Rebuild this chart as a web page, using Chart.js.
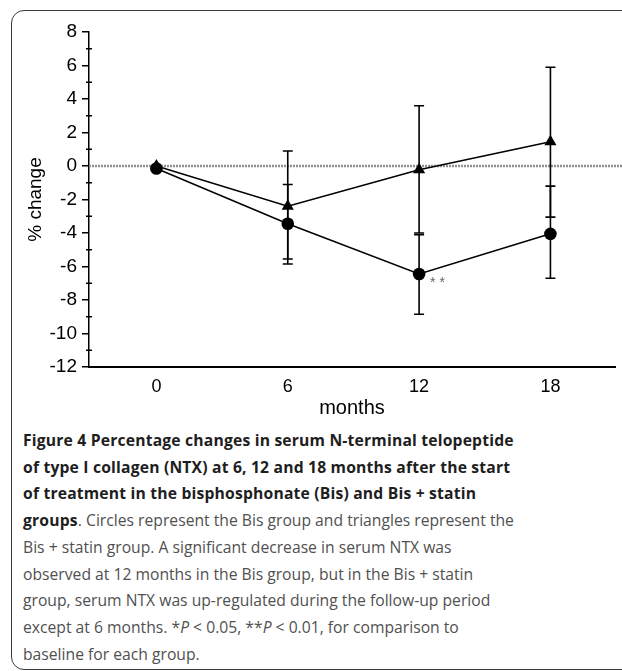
<!DOCTYPE html>
<html>
<head>
<meta charset="utf-8">
<script src="https://cdn.jsdelivr.net/npm/chart.js@4"></script>
<style>
html, body { margin: 0; padding: 0; background: #fff; width: 622px; height: 671px; overflow: hidden; }
#frame { position: absolute; left: 11px; top: 10px; width: 700px; height: 660px; box-sizing: border-box;
         border: 1.5px solid #3a3a3a; border-radius: 13px; }
#wrap { position: absolute; left: 0; top: 0; width: 622px; height: 420px; }
#caption { position: absolute; left: 23px; top: 427px; white-space: nowrap; font-family: "Open Sans", sans-serif;
           font-size: 15.7px; line-height: 26.7px; color: #505050; }
#caption b { color: #1e1e1e; letter-spacing: 0.18px; }
</style>
</head>
<body>
<div id="frame"></div>
<div id="wrap"><canvas id="ntxChart"></canvas></div>
<div id="caption">
<b>Figure 4 Percentage changes in serum N-terminal telopeptide</b><br>
<b>of type I collagen (NTX) at 6, 12 and 18 months after the start</b><br>
<b>of treatment in the bisphosphonate (Bis) and Bis + statin</b><br>
<b>groups</b>. Circles represent the Bis group and triangles represent the<br>
Bis + statin group. A significant decrease in serum NTX was<br>
observed at 12 months in the Bis group, but in the Bis + statin<br>
group, serum NTX was up-regulated during the follow-up period<br>
except at 6 months. *<i>P</i> &lt; 0.05, **<i>P</i> &lt; 0.01, for comparison to<br>
baseline for each group.
</div>
<script>
// months after start of treatment
const months = [0, 6, 12, 18];

// Bis group (circles): mean and error bar ends
const bisMean = [-0.15, -3.45, -6.45, -4.05];
const bisLow  = [null, -5.55, -8.85, -6.7];
const bisHigh = [null, -1.1, -4.1, -1.2];

// Bis + statin group (triangles)
const statinMean = [0, -2.4, -0.23, 1.45];
const statinLow  = [null, -5.85, -4.0, -3.05];
const statinHigh = [null, 0.9, 3.6, 5.9];

const yTicks = [-12, -10, -8, -6, -4, -2, 0, 2, 4, 6, 8];
const yMinorTicks = [-11, -9, -7, -5, -3, -1, 1, 3, 5, 7];
const sigLabel = '* *'; // Bis group at 12 months

const fontFamily = 'Liberation Sans, Arial, sans-serif';

// zero line, error bars, minor ticks and the significance mark
const extras = {
    id: 'extras',
    beforeDatasetsDraw(chart) {
        const ctx = chart.ctx;
        const x = chart.scales.x, y = chart.scales.y;
        const y0 = y.getPixelForValue(0);
        ctx.save();
        ctx.strokeStyle = '#8f8f8f';
        ctx.lineWidth = 2.4;
        ctx.setLineDash([2, 1]);
        ctx.beginPath();
        ctx.moveTo(chart.chartArea.left, y0);
        ctx.lineTo(chart.width, y0);
        ctx.stroke();
        ctx.setLineDash([]);

        ctx.strokeStyle = '#000';
        ctx.lineWidth = 1.6;
        const bars = [[bisLow, bisHigh], [statinLow, statinHigh]];
        bars.forEach(function (b) {
            months.forEach(function (m, i) {
                if (b[0][i] === null) return;
                const px = x.getPixelForValue(m);
                const lo = y.getPixelForValue(b[0][i]);
                const hi = y.getPixelForValue(b[1][i]);
                ctx.beginPath();
                ctx.moveTo(px, lo); ctx.lineTo(px, hi);
                ctx.moveTo(px - 5, lo); ctx.lineTo(px + 5, lo);
                ctx.moveTo(px - 5, hi); ctx.lineTo(px + 5, hi);
                ctx.stroke();
            });
        });
        ctx.restore();
    },
    afterDatasetsDraw(chart) {
        const ctx = chart.ctx;
        const x = chart.scales.x, y = chart.scales.y;
        const ax = chart.chartArea.left;
        ctx.save();
        ctx.strokeStyle = '#000';
        ctx.lineWidth = 1.5;
        ctx.beginPath();
        yMinorTicks.forEach(function (v) {
            const py = y.getPixelForValue(v);
            ctx.moveTo(ax - 3, py);
            ctx.lineTo(ax + 3, py);
        });
        ctx.stroke();

        const px = x.getPixelForValue(months[2]);
        const py = y.getPixelForValue(bisMean[2]);
        ctx.fillStyle = '#666';
        ctx.font = '14px ' + fontFamily;
        ctx.textAlign = 'left';
        ctx.textBaseline = 'middle';
        ctx.fillText(sigLabel, px + 11, py + 9);
        ctx.restore();
    }
};

new Chart(document.getElementById('ntxChart'), {
    type: 'line',
    data: {
        datasets: [{
            label: 'Bis + statin',
            data: months.map(function (m, i) { return { x: m, y: statinMean[i] }; }),
            borderColor: '#000',
            backgroundColor: '#000',
            borderWidth: 1.5,
            pointStyle: 'triangle',
            pointRadius: 7,
            pointBorderWidth: 0
        }, {
            label: 'Bis',
            data: months.map(function (m, i) { return { x: m, y: bisMean[i] }; }),
            borderColor: '#000',
            backgroundColor: '#000',
            borderWidth: 1.5,
            pointStyle: 'circle',
            pointRadius: 6.3,
            pointBorderWidth: 0
        }]
    },
    options: {
        responsive: true,
        maintainAspectRatio: false,
        animation: false,
        events: [],
        layout: { padding: { left: 24, right: 3, top: 32, bottom: 0 } },
        plugins: { legend: { display: false }, tooltip: { enabled: false } },
        scales: {
            x: {
                type: 'linear',
                min: -3.08,
                max: 20.95,
                afterBuildTicks: function (scale) {
                    scale.ticks = months.map(function (m) { return { value: m }; });
                },
                afterFit: function (scale) { scale.height = 53; },
                grid: { display: true, drawOnChartArea: false, drawTicks: false },
                border: { display: true, color: '#000', width: 2 },
                ticks: { color: '#000', font: { family: fontFamily, size: 18 }, padding: 9, maxRotation: 0 },
                title: { display: true, text: 'months', color: '#000',
                         font: { family: fontFamily, size: 20 }, padding: 0 }
            },
            y: {
                min: -12,
                max: 8,
                afterBuildTicks: function (scale) {
                    scale.ticks = yTicks.map(function (v) { return { value: v }; });
                },
                afterFit: function (scale) { scale.width = 65; },
                grid: { drawOnChartArea: false, drawTicks: true, tickLength: 7, color: '#000', lineWidth: 1.5 },
                border: { display: true, color: '#000', width: 1.5 },
                ticks: { color: '#000', font: { family: fontFamily, size: 19 }, padding: 5 },
                title: { display: true, text: '% change', color: '#000',
                         font: { family: fontFamily, size: 19 }, padding: 0 }
            }
        }
    },
    plugins: [extras]
});
</script>
</body>
</html>
